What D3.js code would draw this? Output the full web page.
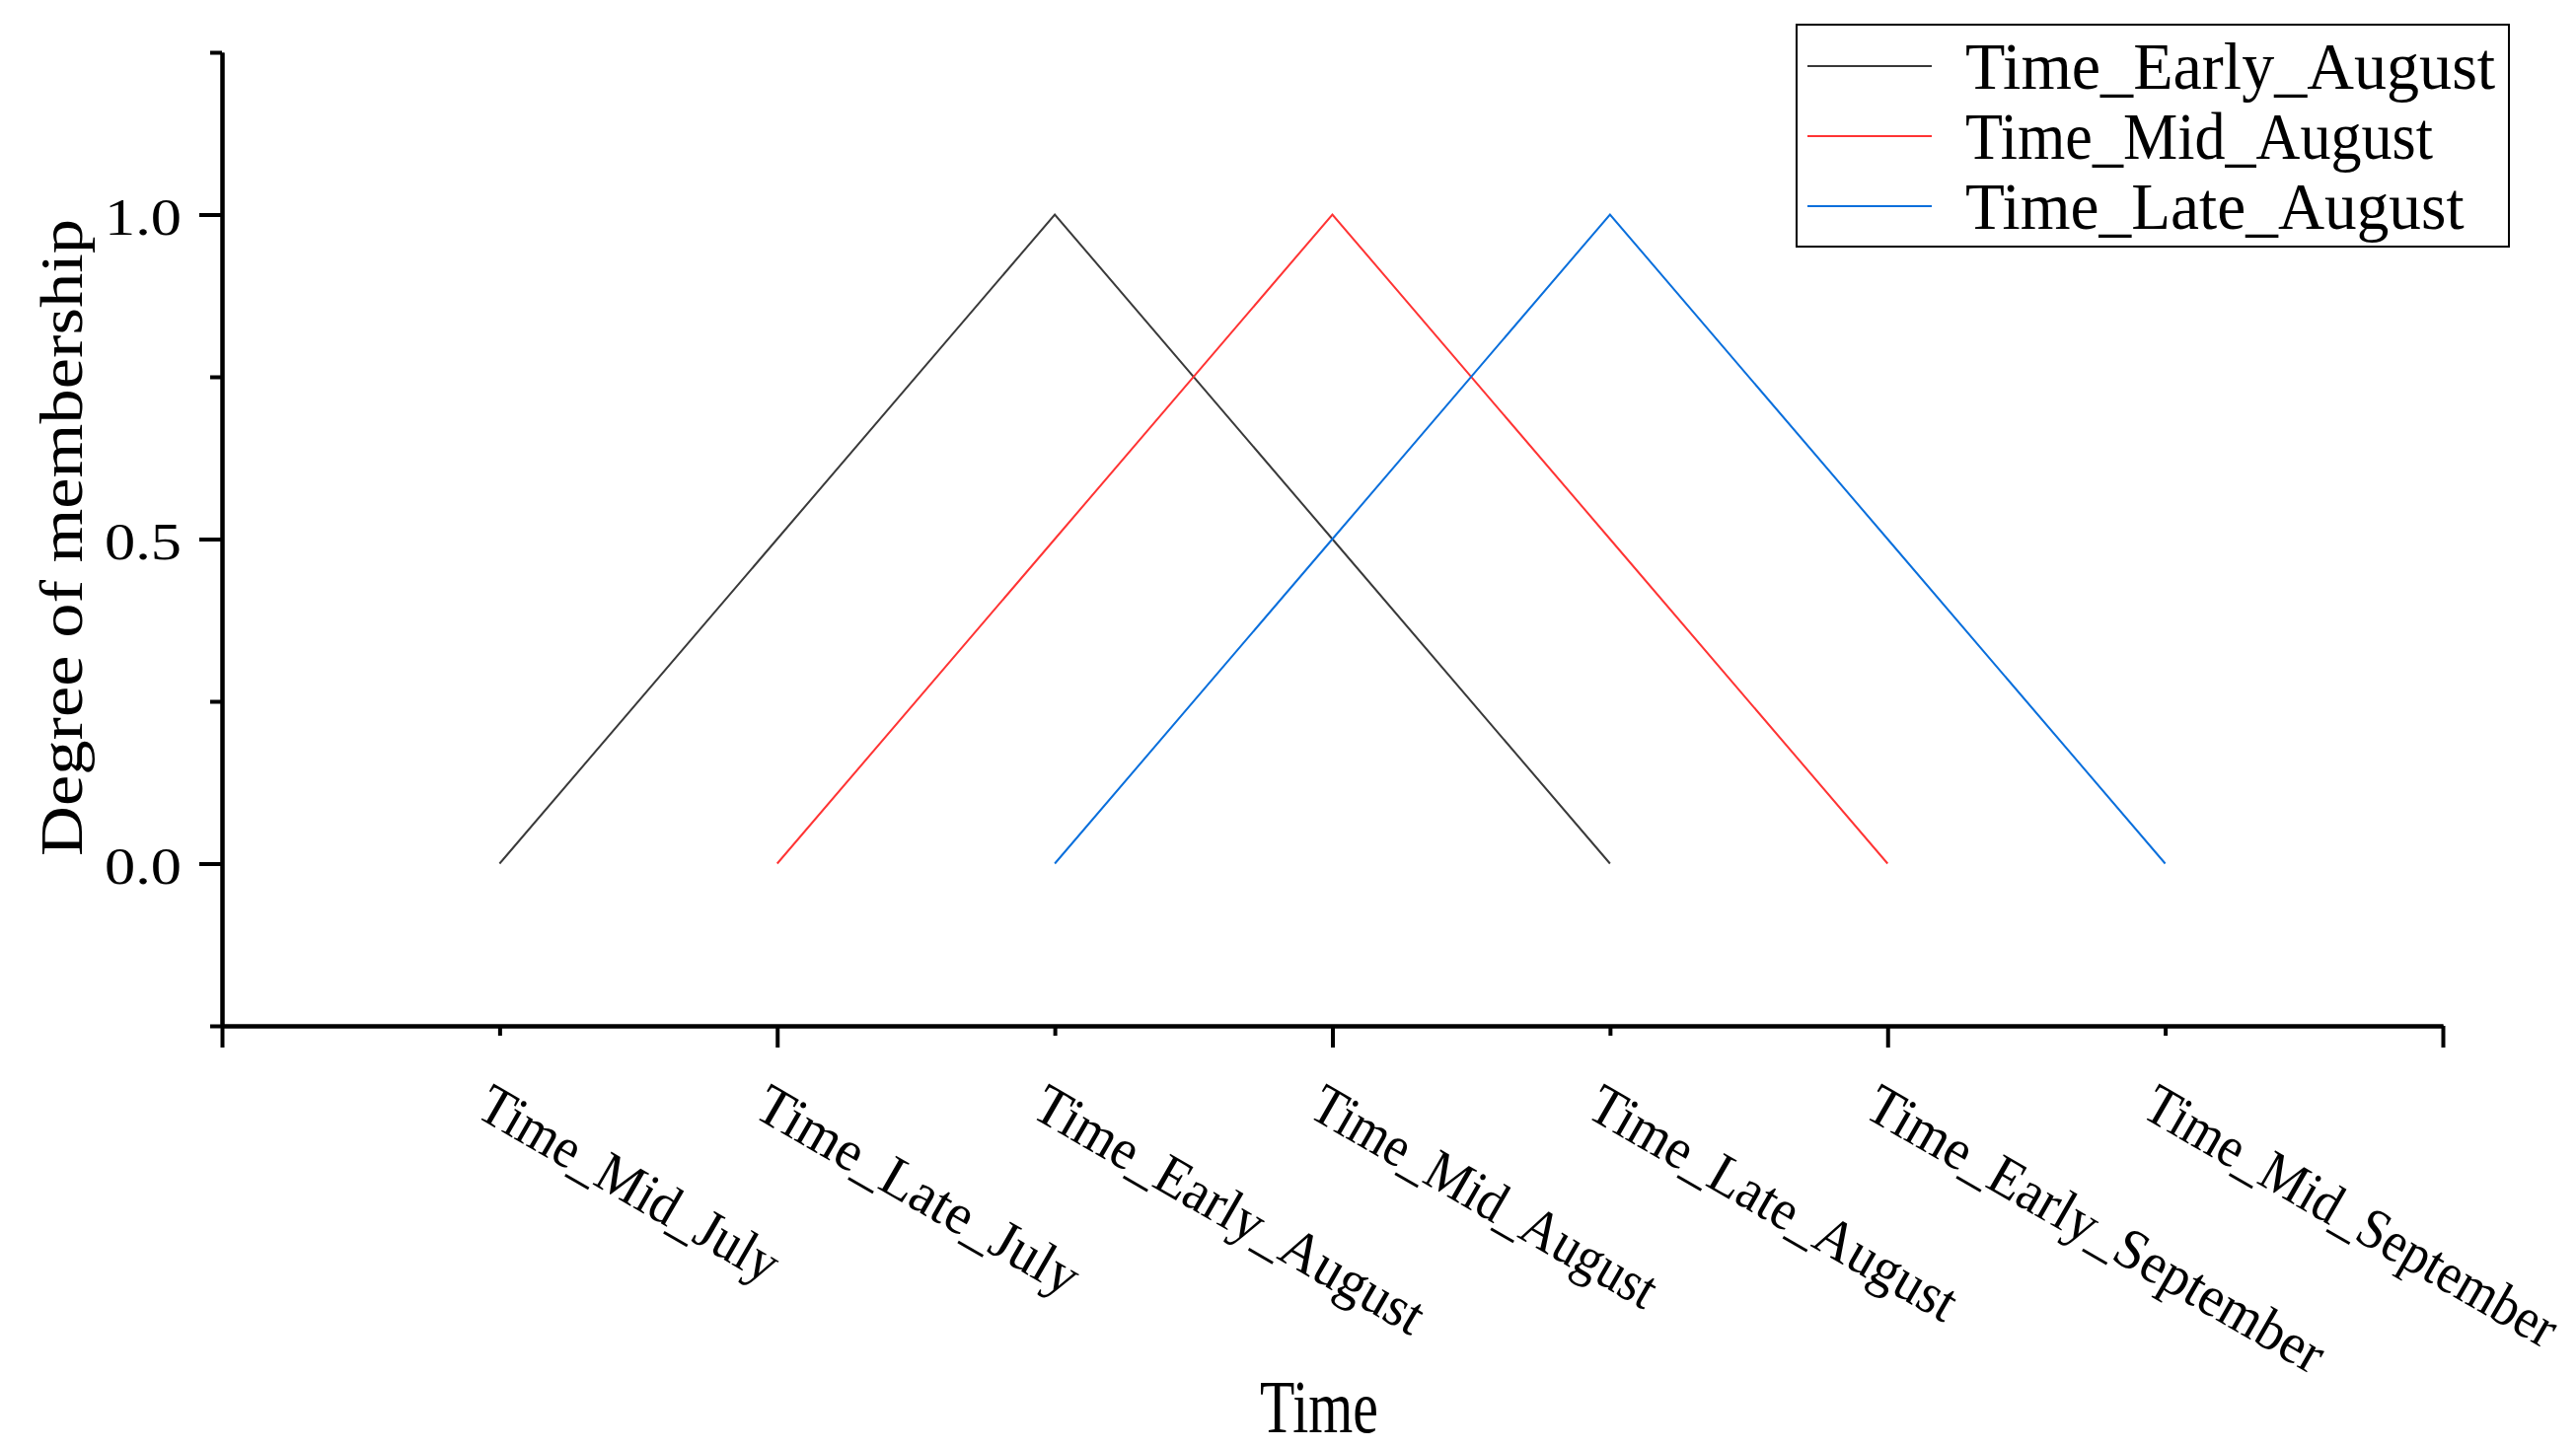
<!DOCTYPE html>
<html>
<head>
<meta charset="utf-8">
<script src="https://cdn.jsdelivr.net/npm/d3@7"></script>
<style>
  html, body { margin: 0; padding: 0; background: #ffffff; }
  svg { display: block; }
  text { font-family: "Liberation Serif", "DejaVu Serif", serif; fill: #000; }
</style>
</head>
<body>
<script>
// ---------------- data ----------------
const categories = ["Time_Mid_July", "Time_Late_July", "Time_Early_August", "Time_Mid_August",
                    "Time_Late_August", "Time_Early_September", "Time_Mid_September"];
const seriesNames = ["Time_Early_August", "Time_Mid_August", "Time_Late_August"];
const earlyAugust = [0, 0.5, 1, 0.5, 0, null, null];
const midAugust   = [null, 0, 0.5, 1, 0.5, 0, null];
const lateAugust  = [null, null, 0, 0.5, 1, 0.5, 0];
const yTickValues = [0, 0.5, 1.0];
const yTickLabels = ["0.0", "0.5", "1.0"];
const yMinorTicks = [-0.25, 0.25, 0.75, 1.25];
const xTitle = "Time";
const yTitle = "Degree of membership";

const seriesValues = [earlyAugust, midAugust, lateAugust];
const colors = ["#3a3a3a", "#ff3434", "#0a6fdc"];

// ---------------- layout ----------------
const W = 2611, H = 1468;
const svg = d3.select("body").append("svg").attr("width", W).attr("height", H);
svg.append("rect").attr("width", W).attr("height", H).attr("fill", "#fff");

const x = d3.scaleLinear().domain([0, categories.length + 1]).range([225, 2476]);
const y = d3.scaleLinear().domain([-0.25, 1.25]).range([1040, 53]);

// ---------------- lines ----------------
const line = d3.line()
  .defined(d => d.v !== null)
  .x(d => x(d.i + 1))
  .y(d => y(d.v));

seriesValues.forEach((vals, k) => {
  svg.append("path")
    .datum(vals.map((v, i) => ({ i, v })))
    .attr("fill", "none")
    .attr("stroke", colors[k])
    .attr("stroke-width", 2)
    .attr("d", line);
});

// ---------------- axes ----------------
function styleAxis(g) {
  g.selectAll("path.domain").attr("stroke", "#000").attr("stroke-width", 4);
  g.selectAll(".tick line").attr("stroke", "#000").attr("stroke-width", 4);
  g.selectAll(".tick text").remove();
}

const xMajor = [];
const xMinor = [];
for (let i = 0; i <= categories.length + 1; i++) (i % 2 === 0 ? xMajor : xMinor).push(i);

svg.append("g").attr("transform", "translate(0,1040)")
  .call(d3.axisBottom(x).tickValues(xMajor).tickSize(22).tickSizeOuter(0).tickFormat(""))
  .call(styleAxis);
svg.append("g").attr("transform", "translate(0,1040)")
  .call(d3.axisBottom(x).tickValues(xMinor).tickSize(10).tickSizeOuter(0).tickFormat(""))
  .call(styleAxis);

svg.append("g").attr("transform", "translate(225,0)")
  .call(d3.axisLeft(y).tickValues(yTickValues).tickSize(23).tickSizeOuter(0).tickFormat(""))
  .call(styleAxis);
svg.append("g").attr("transform", "translate(225,0)")
  .call(d3.axisLeft(y).tickValues(yMinorTicks).tickSize(12).tickSizeOuter(0).tickFormat(""))
  .call(styleAxis);

// y tick labels
svg.append("g").selectAll("text")
  .data(yTickValues)
  .join("text")
  .attr("x", 184)
  .attr("y", d => y(d) + 20)
  .attr("text-anchor", "end")
  .attr("font-size", 53)
  .attr("textLength", (d, i) => yTickLabels[i].length * 26)
  .attr("lengthAdjust", "spacingAndGlyphs")
  .text((d, i) => yTickLabels[i]);

// x tick labels (rotated)
svg.append("g").selectAll("text")
  .data(categories)
  .join("text")
  .attr("transform", (d, i) => `translate(${x(i + 1) - 26},1131) rotate(30)`)
  .attr("text-anchor", "start")
  .attr("font-size", 58)
  .attr("textLength", d => d.length * 26.3)
  .attr("lengthAdjust", "spacingAndGlyphs")
  .text(d => d);

// axis titles
svg.append("text")
  .attr("x", 1337).attr("y", 1452)
  .attr("text-anchor", "middle")
  .attr("font-size", 76)
  .attr("textLength", xTitle.length * 30)
  .attr("lengthAdjust", "spacingAndGlyphs")
  .text(xTitle);

svg.append("text")
  .attr("transform", "translate(83,545) rotate(-90)")
  .attr("text-anchor", "middle")
  .attr("font-size", 62)
  .attr("textLength", yTitle.length * 32.3)
  .attr("lengthAdjust", "spacingAndGlyphs")
  .text(yTitle);

// ---------------- legend ----------------
const legend = svg.append("g");
legend.append("rect")
  .attr("x", 1821).attr("y", 25).attr("width", 722).attr("height", 225)
  .attr("fill", "#fff").attr("stroke", "#000").attr("stroke-width", 2);

const rowY = [67, 138, 209];
seriesNames.forEach((name, k) => {
  legend.append("line")
    .attr("x1", 1832).attr("x2", 1958)
    .attr("y1", rowY[k]).attr("y2", rowY[k])
    .attr("stroke", colors[k]).attr("stroke-width", 2);
  legend.append("text")
    .attr("x", 1992).attr("y", rowY[k] + 23)
    .attr("font-size", 67)
    .attr("textLength", name.length * 31.6)
    .attr("lengthAdjust", "spacingAndGlyphs")
    .text(name);
});
</script>
</body>
</html>
